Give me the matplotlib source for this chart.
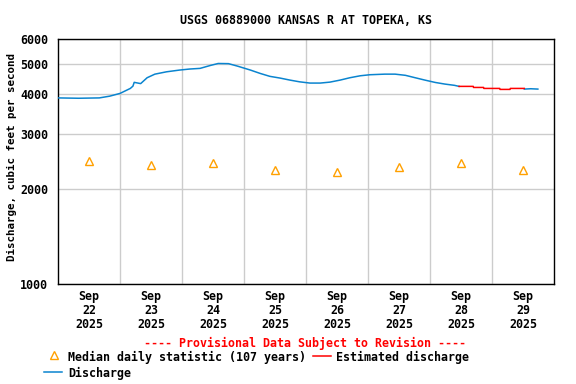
import matplotlib
matplotlib.use("Agg")
import matplotlib.pyplot as plt
import pandas as pd
from matplotlib.lines import Line2D
from matplotlib.ticker import NullLocator, FixedLocator, FuncFormatter

title = "USGS 06889000 KANSAS R AT TOPEKA, KS"
ylabel = "Discharge, cubic feet per second"

# Discharge (approved/provisional)
dis_times = ["2025-09-22 00:00", "2025-09-22 08:00", "2025-09-22 16:00", "2025-09-22 20:00",
             "2025-09-23 00:00", "2025-09-23 04:00", "2025-09-23 05:00", "2025-09-23 05:30",
             "2025-09-23 08:00", "2025-09-23 10:30", "2025-09-23 13:30", "2025-09-23 18:00",
             "2025-09-23 23:00", "2025-09-24 03:00", "2025-09-24 07:00", "2025-09-24 11:00",
             "2025-09-24 14:00", "2025-09-24 18:00", "2025-09-24 21:30", "2025-09-25 02:30",
             "2025-09-25 06:15", "2025-09-25 10:00", "2025-09-25 14:00", "2025-09-25 17:45",
             "2025-09-25 21:30", "2025-09-26 01:30", "2025-09-26 05:30", "2025-09-26 09:15",
             "2025-09-26 13:15", "2025-09-26 17:00", "2025-09-26 21:00", "2025-09-27 00:45",
             "2025-09-27 06:30", "2025-09-27 10:30", "2025-09-27 14:30", "2025-09-27 18:15",
             "2025-09-27 22:00", "2025-09-28 02:00", "2025-09-28 05:45", "2025-09-28 09:30",
             "2025-09-28 11:15"]
dis_values = [3900, 3890, 3900, 3950,
              4030, 4180, 4250, 4370,
              4330, 4520, 4640, 4720,
              4780, 4817, 4840, 4945,
              5016, 5010, 4920, 4780,
              4665, 4566, 4508, 4443,
              4387, 4347, 4347, 4377,
              4443, 4520, 4585, 4620,
              4640, 4640, 4600, 4520,
              4443, 4367, 4315, 4275,
              4243]

dis2_times = ["2025-09-29 12:30", "2025-09-29 15:00", "2025-09-29 17:45"]
dis2_values = [4160, 4170, 4160]

# Estimated discharge
est_times = ["2025-09-28 11:15", "2025-09-28 16:45", "2025-09-28 16:50", "2025-09-28 20:45",
             "2025-09-28 20:50", "2025-09-29 03:00", "2025-09-29 03:05", "2025-09-29 07:00",
             "2025-09-29 07:05", "2025-09-29 12:30"]
est_values = [4243, 4243, 4210, 4210,
              4180, 4180, 4150, 4150,
              4180, 4180]

# Median daily statistic (107 years)
med_days = ["2025-09-22 12:00", "2025-09-23 12:00", "2025-09-24 12:00", "2025-09-25 12:00",
            "2025-09-26 12:00", "2025-09-27 12:00", "2025-09-28 12:00", "2025-09-29 12:00"]
med_values = [2450, 2395, 2430, 2310, 2276, 2345, 2430, 2310]

y_ticks = [1000, 2000, 3000, 4000, 5000, 6000]
x_start, x_end = "2025-09-22", "2025-09-30"

FONT = "DejaVu Sans Mono"
FS = 8.4
BLUE = "#0a84cf"
RED = "#ff0000"
ORANGE = "#ffa000"
MS = 6.2

fig = plt.figure(figsize=(5.76, 3.84), dpi=100)
ax = fig.add_axes([58 / 576, 1 - 284 / 384, 496 / 576, 245 / 384])

ax.plot(pd.to_datetime(dis_times), dis_values, color=BLUE, lw=1.1, zorder=3)
ax.plot(pd.to_datetime(dis2_times), dis2_values, color=BLUE, lw=1.1, zorder=3)
ax.plot(pd.to_datetime(est_times), est_values, color=RED, lw=1.1, zorder=3)
ax.plot(pd.to_datetime(med_days), med_values, ls="none", marker="^", ms=MS,
        mfc="none", mec=ORANGE, mew=1.0, zorder=4)

ax.set_yscale("log")
ax.set_ylim(1000, 6000)
ax.yaxis.set_major_locator(FixedLocator(y_ticks))
ax.yaxis.set_minor_locator(NullLocator())
ax.yaxis.set_major_formatter(FuncFormatter(lambda v, p: f"{int(round(v))}"))

start = pd.Timestamp(x_start)
end = pd.Timestamp(x_end)
ax.set_xlim(start, end)
midnights = pd.date_range(start, end, freq="D")
noons = pd.date_range(start + pd.Timedelta(hours=12), end - pd.Timedelta(hours=12), freq="D")
ax.set_xticks(noons)
ax.set_xticklabels([d.strftime("%b\n%d\n%Y") for d in noons], linespacing=1.1)
ax.set_xticks(midnights[1:-1], minor=True)

ax.grid(which="minor", axis="x", color="#cccccc", lw=1.0)
ax.grid(which="major", axis="y", color="#cccccc", lw=1.0)
ax.set_axisbelow(True)
ax.tick_params(which="both", length=0)
ax.tick_params(axis="x", pad=4)
ax.tick_params(axis="y", pad=7)
for lab in ax.get_xticklabels() + ax.get_yticklabels():
    lab.set_fontfamily(FONT)
    lab.set_fontweight("bold")
    lab.set_fontsize(FS)
for s in ax.spines.values():
    s.set_color("black")
    s.set_linewidth(1.0)

fig.text(306 / 576, 1 - 20 / 384, title, ha="center", va="center",
         family=FONT, weight="bold", fontsize=FS)
fig.text(12 / 576, 1 - 157 / 384, ylabel, ha="center", va="center", rotation=90,
         family=FONT, weight="bold", fontsize=7.8)

fig.text(305 / 576, 1 - 343 / 384, "---- Provisional Data Subject to Revision ----",
         ha="center", va="center", color=RED, family=FONT, weight="bold", fontsize=FS)

fig.add_artist(Line2D([53.5 / 576], [1 - 355 / 384], marker="^", ms=MS, mfc="none",
                      mec=ORANGE, mew=1.0, ls="none", transform=fig.transFigure))
fig.text(68 / 576, 1 - 357 / 384, "Median daily statistic (107 years)", ha="left", va="center",
         family=FONT, weight="bold", fontsize=FS)
fig.add_artist(Line2D([313 / 576, 331 / 576], [1 - 356 / 384, 1 - 356 / 384], color=RED,
                      lw=1.1, transform=fig.transFigure))
fig.text(336.5 / 576, 1 - 357 / 384, "Estimated discharge", ha="left", va="center",
         family=FONT, weight="bold", fontsize=FS)
fig.add_artist(Line2D([44 / 576, 62 / 576], [1 - 372 / 384, 1 - 372 / 384], color=BLUE,
                      lw=1.1, transform=fig.transFigure))
fig.text(68 / 576, 1 - 373 / 384, "Discharge", ha="left", va="center",
         family=FONT, weight="bold", fontsize=FS)

fig.savefig("out.png", dpi=100)
